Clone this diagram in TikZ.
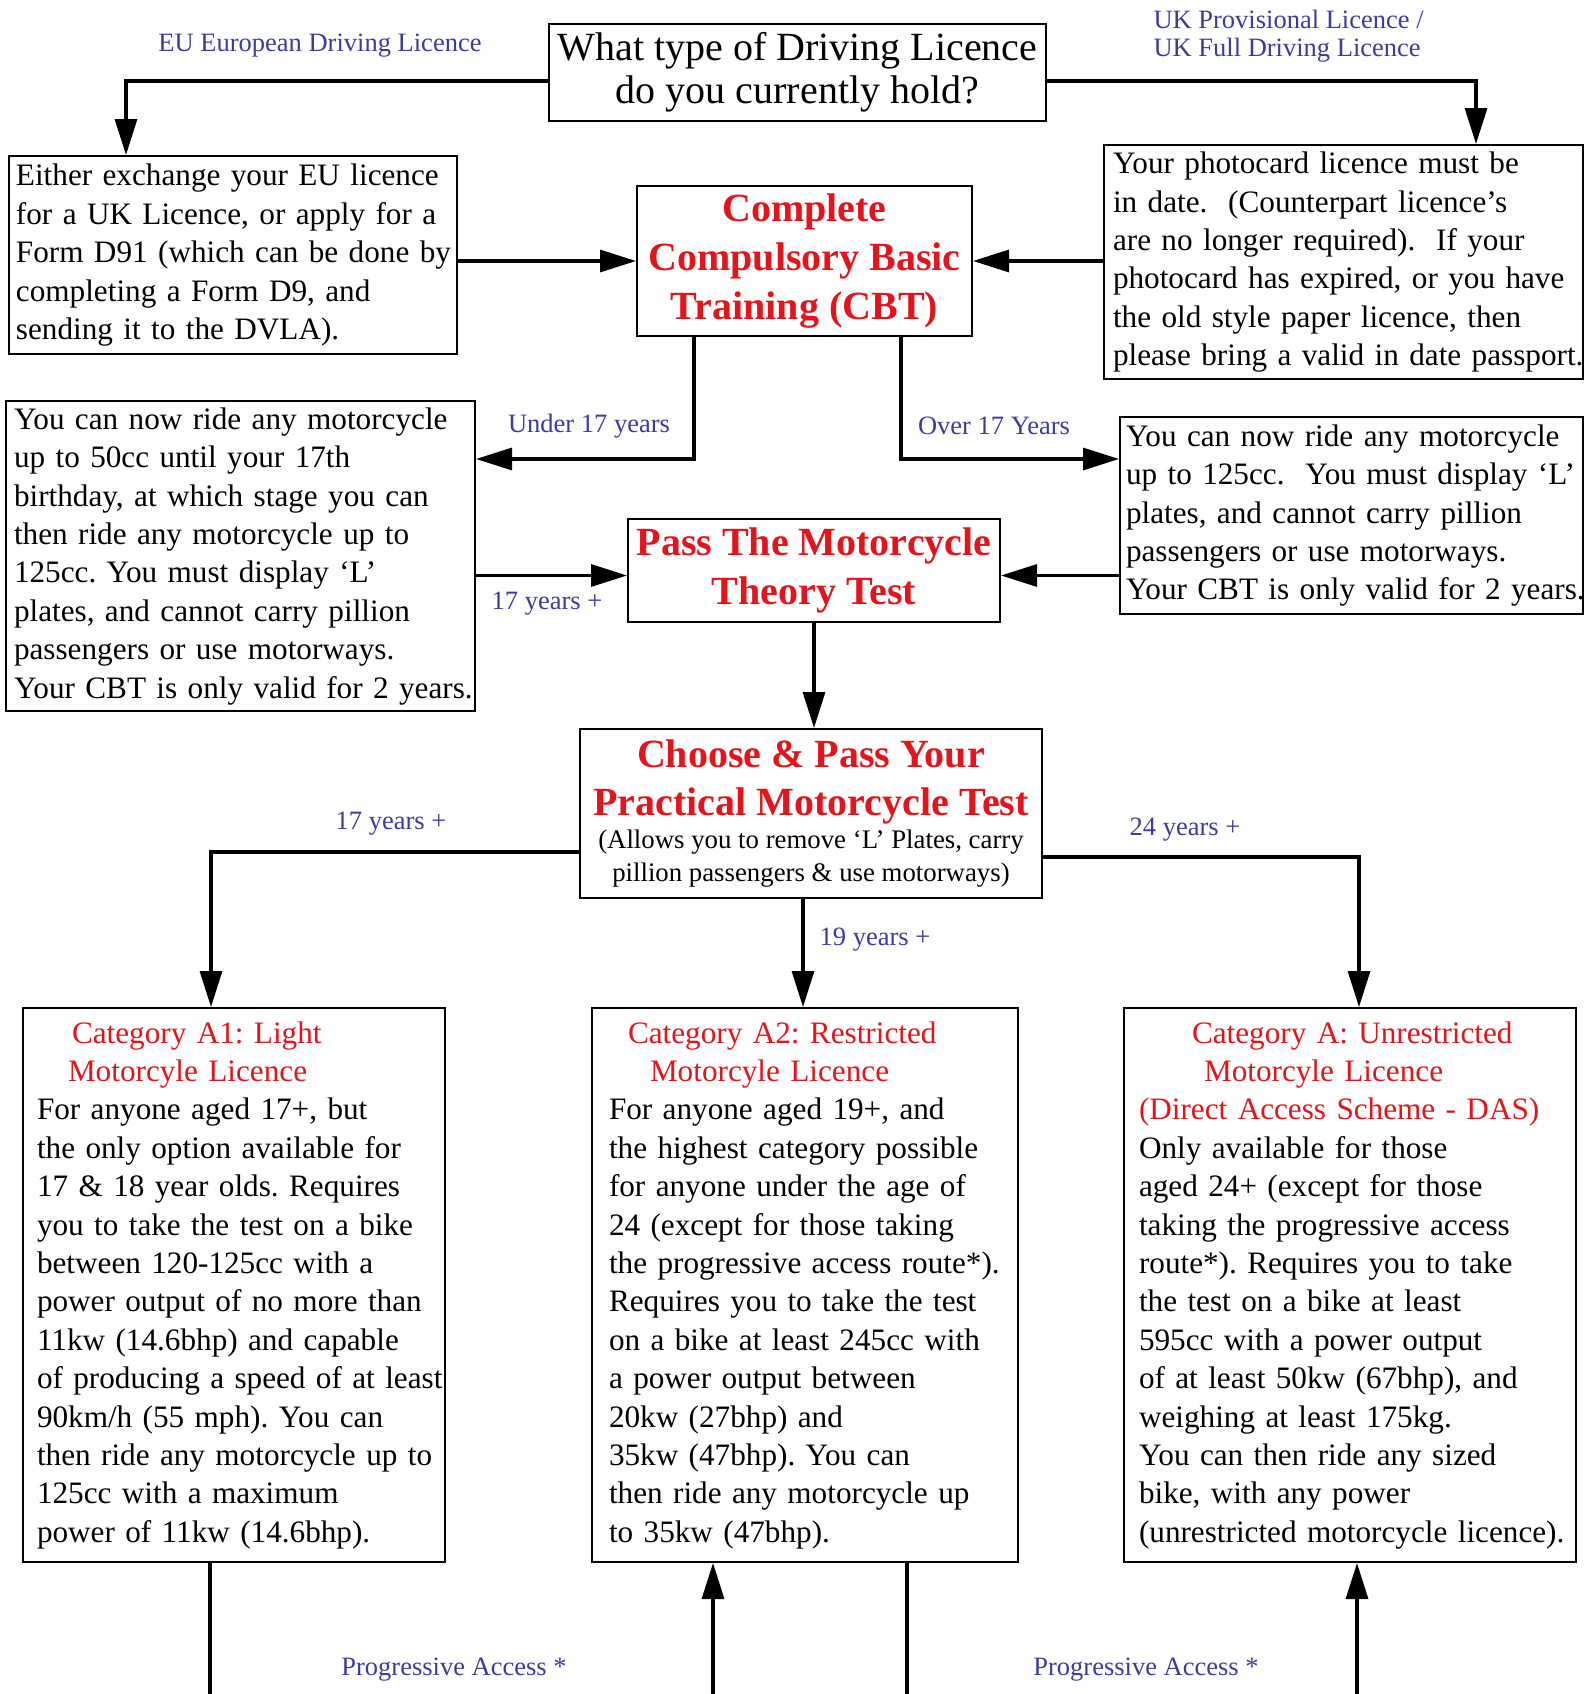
\documentclass[tikz,border=0pt]{standalone}
\usepackage{fontspec}
\setmainfont{Liberation Serif}
\usetikzlibrary{arrows.meta}
\definecolor{hred}{HTML}{E3141B}
\definecolor{tagblue}{HTML}{3D3A9E}
\newcommand{\bodyfont}{\fontsize{31.2}{38.4}\selectfont}
\newcommand{\headfont}{\fontsize{40}{48.6}\selectfont\bfseries}
\newcommand{\askfont}{\fontsize{40}{43}\selectfont}
\newcommand{\tagfont}{\fontsize{26.5}{28}\selectfont}
\newcommand{\notefont}{\fontsize{26.8}{32.4}\selectfont}
\newcommand{\panellines}[1]{\noindent\begin{tabular}{@{}l@{}}#1\end{tabular}}
\frenchspacing

\begin{document}
\begin{tikzpicture}[x=1pt, y=-1pt,
    panel/.style={draw, line width=2pt, anchor=north west, inner ysep=0pt, font=\bodyfont},
    title/.style={draw, line width=2pt, anchor=north west, align=center, inner sep=0pt},
    tag/.style={text=tagblue, font=\tagfont},
    link/.style={line width=3.2pt, -{Triangle[length=36pt,width=22pt]}},
    wire/.style={line width=3.2pt}]
  \useasboundingbox (0,0) rectangle (1584,1694);

  % Question and the two kinds of licence.
  \node[title, font=\askfont, minimum width=497pt, minimum height=97pt] (ask) at (548,23)
    {What type of Driving Licence\\do you currently hold?};
  \node[panel, text width=434pt, inner xsep=7pt, minimum height=198pt] (eu) at (8,155)
    {\panellines{Either exchange your EU licence\\for a UK Licence, or apply for a\\Form D91 (which can be done by\\completing a Form D9, and\\sending it to the DVLA).}};
  \node[panel, text width=461pt, inner xsep=9pt, minimum height=234pt] (uk) at (1103,144)
    {\panellines{Your photocard licence must be\\in date.\ \ (Counterpart licence’s\\are no longer required).\ \ If your\\photocard has expired, or you have\\the old style paper licence, then\\please bring a valid in date passport.}};

  % CBT and what it allows.
  \node[title, font=\headfont, text=hred, minimum width=335pt, minimum height=150pt] (cbt) at (636,185)
    {Complete\\Compulsory Basic\\Training (CBT)};
  \node[panel, text width=453pt, inner xsep=8pt, minimum height=310pt] (young) at (5,400)
    {\panellines{You can now ride any motorcycle\\up to 50cc until your 17th\\birthday, at which stage you can\\then ride any motorcycle up to\\125cc. You must display ‘L’\\plates, and cannot carry pillion\\passengers or use motorways.\\Your CBT is only valid for 2 years.}};
  \node[panel, text width=451pt, inner xsep=6pt, minimum height=197pt] (older) at (1119,416)
    {\panellines{You can now ride any motorcycle\\up to 125cc.\ \ You must display ‘L’\\plates, and cannot carry pillion\\passengers or use motorways.\\Your CBT is only valid for 2 years.}};

  % Theory and practical tests.
  \node[title, font=\headfont, text=hred, minimum width=372pt, minimum height=103pt] (theory) at (627,518)
    {Pass The Motorcycle\\Theory Test};
  \node[title, font=\notefont, minimum width=462pt, minimum height=169pt] (practical) at (579,728)
    {{\headfont\color{hred}Choose \& Pass Your}\\[15.5pt]%
     {\headfont\color{hred}Practical Motorcycle Test}\\[1pt]%
     (Allows you to remove ‘L’ Plates, carry\\pillion passengers \& use motorways)};

  % Licence categories.
  \node[panel, text width=394pt, inner xsep=14pt, minimum height=554pt] (a1) at (22,1007)
    {\panellines{\textcolor{hred}{\hspace*{35pt}Category A1: Light}\\\textcolor{hred}{\hspace*{31pt}Motorcyle Licence}\\For anyone aged 17+, but\\the only option available for\\17 \& 18 year olds. Requires\\you to take the test on a bike\\between 120-125cc with a\\power output of no more than\\11kw (14.6bhp) and capable\\of producing a speed of at least\\90km/h (55 mph). You can\\then ride any motorcycle up to\\125cc with a maximum\\power of 11kw (14.6bhp).}};
  \node[panel, text width=392pt, inner xsep=17pt, minimum height=554pt] (a2) at (591,1007)
    {\panellines{\textcolor{hred}{\hspace*{19pt}Category A2: Restricted}\\\textcolor{hred}{\hspace*{41pt}Motorcyle Licence}\\For anyone aged 19+, and\\the highest category possible\\for anyone under the age of\\24 (except for those taking\\the progressive access route*).\\Requires you to take the test\\on a bike at least 245cc with\\a power output between\\20kw (27bhp) and\\35kw (47bhp). You can\\then ride any motorcycle up\\to 35kw (47bhp).}};
  \node[panel, text width=422pt, inner xsep=15pt, minimum height=554pt] (acat) at (1123,1007)
    {\panellines{\textcolor{hred}{\hspace*{53pt}Category A: Unrestricted}\\\textcolor{hred}{\hspace*{65pt}Motorcyle Licence}\\\textcolor{hred}{(Direct Access Scheme - DAS)}\\Only available for those\\aged 24+ (except for those\\taking the progressive access\\route*). Requires you to take\\the test on a bike at least\\595cc with a power output\\of at least 50kw (67bhp), and\\weighing at least 175kg.\\You can then ride any sized\\bike, with any power\\(unrestricted motorcycle licence).}};

  % Connectors.
  \draw[link] ([yshift=-8.5pt]ask.west) -| ([xshift=118pt]eu.north west);
  \draw[link] ([yshift=-8.5pt]ask.east) -| ([xshift=373pt]uk.north west);
  \draw[link] (cbt.west -| eu.east) -- (cbt.west);
  \draw[link] (cbt.east -| uk.west) -- (cbt.east);
  \draw[link] ([xshift=58pt]cbt.south west) |- ([yshift=-59pt]young.north east);
  \draw[link] ([xshift=265pt]cbt.south west) |- ([yshift=-43pt]older.north west);
  \coordinate (thl) at ([yshift=-5pt]theory.west);
  \coordinate (thr) at ([yshift=-5pt]theory.east);
  \draw[link] (thl -| young.east) -- (thl);
  \draw[link] (thr -| older.west) -- (thr);
  \draw[link] (theory.south) -- (theory.south |- practical.north);
  \draw[link] ([yshift=-38.5pt]practical.west) -| ([xshift=189pt]a1.north west);
  \draw[link] ([yshift=-43.5pt]practical.east) -| ([xshift=236pt]acat.north west);
  \coordinate (midtop) at ([xshift=-8pt]practical.south);
  \draw[link] (midtop) -- (midtop |- a2.north);

  % Progressive access, running off the page.
  \coordinate (pa1) at (210,1694);
  \coordinate (pa2) at (713,1694);
  \coordinate (pb2) at (907,1694);
  \coordinate (pa3) at (1357,1694);
  \draw[wire] (a1.south -| pa1) -- (pa1);
  \draw[link] (pa2) -- (a2.south -| pa2);
  \draw[wire] (a2.south -| pb2) -- (pb2);
  \draw[link] (pa3) -- (acat.south -| pa3);

  % Branch labels.
  \node[tag] (eulab) at (320,46) {EU European Driving Licence};
  \node[tag, align=left, anchor=west] (uklab) at (1150,36) {UK Provisional Licence /\\UK Full Driving Licence};
  \node[tag] (under) at (589,426) {Under 17 years};
  \node[tag] (over) at (994,426) {Over 17 Years};
  \node[tag] (thage) at (547,604) {17 years +};
  \node[tag] (lage) at (391,824) {17 years +};
  \node[tag] (rage) at (1185,830) {24 years +};
  \node[tag] (mage) at (875,940) {19 years +};
  \node[tag] (prog1) at (454,1670) {Progressive Access *};
  \node[tag] (prog2) at (1146,1670) {Progressive Access *};
\end{tikzpicture}
\end{document}
